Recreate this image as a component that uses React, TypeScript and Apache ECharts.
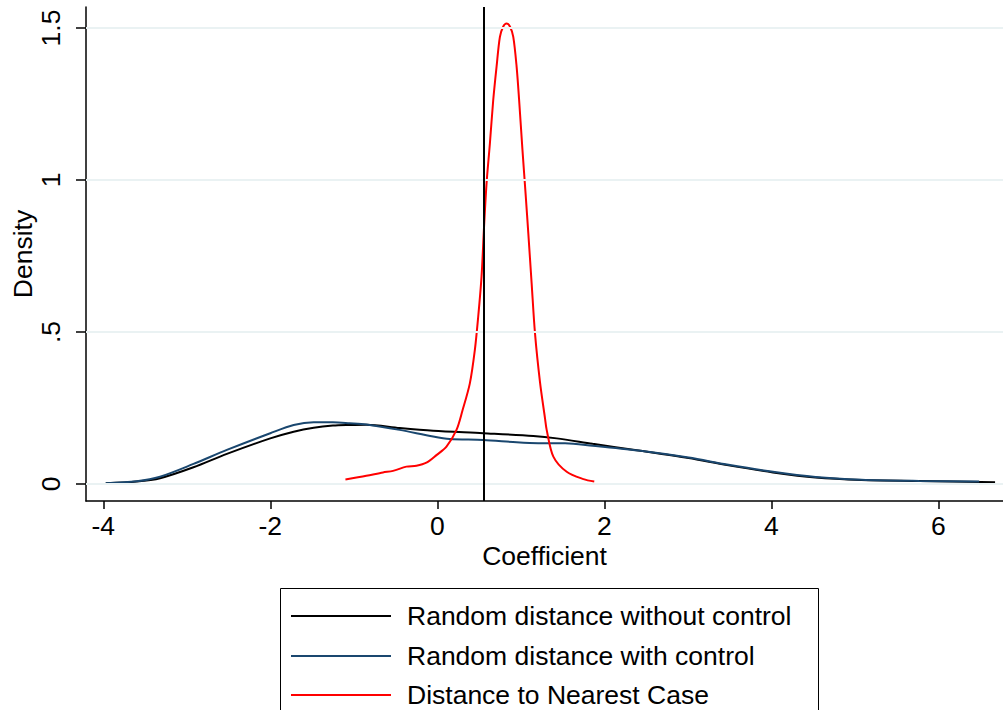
import React, { useEffect, useRef } from "react";
import * as echarts from "echarts";

const seriesNames = [
  "Random distance without control",
  "Random distance with control",
  "Distance to Nearest Case",
];

const withoutControl: [number, number][] = [
  [-3.97, 0.002], [-3.6, 0.008], [-3.32, 0.019], [-2.92, 0.055], [-2.52, 0.099],
  [-2.0, 0.15], [-1.72, 0.172], [-1.48, 0.185], [-1.25, 0.192], [-1.05, 0.194],
  [-0.85, 0.195], [-0.45, 0.184], [-0.05, 0.175], [0.55, 0.167], [1.15, 0.158],
  [1.43, 0.15], [1.86, 0.132], [2.41, 0.11], [3.01, 0.085], [3.47, 0.062],
  [4.02, 0.038], [4.53, 0.021], [5.08, 0.013], [5.77, 0.01], [6.68, 0.006],
];

const withControl: [number, number][] = [
  [-3.97, 0.002], [-3.6, 0.009], [-3.32, 0.024], [-2.92, 0.066], [-2.52, 0.112],
  [-2.0, 0.167], [-1.72, 0.194], [-1.48, 0.203], [-1.25, 0.203], [-1.05, 0.2],
  [-0.85, 0.196], [-0.45, 0.178], [-0.05, 0.156], [0.15, 0.148], [0.55, 0.145],
  [0.95, 0.137], [1.21, 0.134], [1.53, 0.134], [1.86, 0.126], [2.41, 0.11],
  [3.01, 0.087], [3.47, 0.064], [4.02, 0.04], [4.53, 0.023], [5.08, 0.014],
  [5.77, 0.01], [6.49, 0.008],
];

const nearestCase: [number, number][] = [
  [-1.1, 0.015], [-0.85, 0.027], [-0.65, 0.038], [-0.53, 0.043], [-0.37, 0.057],
  [-0.25, 0.06], [-0.13, 0.07], [-0.01, 0.095], [0.11, 0.123], [0.23, 0.178],
  [0.3, 0.24], [0.39, 0.331], [0.45, 0.441], [0.49, 0.55], [0.53, 0.682],
  [0.56, 0.846], [0.59, 0.989], [0.63, 1.12], [0.67, 1.263], [0.71, 1.373],
  [0.75, 1.471], [0.79, 1.505], [0.83, 1.515], [0.87, 1.505], [0.91, 1.471],
  [0.95, 1.373], [0.98, 1.263], [1.02, 1.099], [1.06, 0.945], [1.09, 0.825],
  [1.13, 0.66], [1.17, 0.496], [1.23, 0.335], [1.29, 0.216], [1.31, 0.178],
  [1.39, 0.09], [1.55, 0.04], [1.75, 0.016], [1.88, 0.008],
];

const xTicks = [-4, -2, 0, 2, 4, 6];
const yTicks = [0, 0.5, 1, 1.5];
const yTickLabels = ["0", ".5", "1", "1.5"];
const verticalLineX = 0.56;

const colors = ["#000000", "#1a476f", "#ff0000"];
const FONT = "Liberation Sans, Arial, sans-serif";
const FS = 26.5;

export default function App() {
  const ref = useRef<HTMLDivElement>(null);
  useEffect(() => {
    if (!ref.current) return;
    const chart = echarts.init(ref.current, undefined, { renderer: "svg" });
    const lineSeries = (name: string, data: [number, number][], color: string, extra: any = {}) => ({
      type: "line",
      name,
      data,
      smooth: 0.3,
      showSymbol: false,
      symbol: "none",
      lineStyle: { color, width: 2 },
      itemStyle: { color },
      z: 3,
      ...extra,
    });
    const legendRowsY = [616, 656, 695];
    const legendGraphics: any[] = [
      {
        type: "rect",
        left: 280,
        top: 588,
        shape: { width: 538, height: 160 },
        style: { fill: "#fff", stroke: "#000", lineWidth: 1 },
        silent: true,
      },
    ];
    seriesNames.forEach((n, i) => {
      legendGraphics.push({
        type: "line",
        shape: { x1: 291, y1: legendRowsY[i], x2: 391, y2: legendRowsY[i] },
        style: { stroke: colors[i], lineWidth: 2 },
        silent: true,
      });
      legendGraphics.push({
        type: "text",
        x: 407,
        y: legendRowsY[i],
        style: {
          text: n,
          fontSize: FS,
          fontFamily: FONT,
          fill: "#000",
          verticalAlign: "middle",
          align: "left",
        },
        silent: true,
      });
    });
    chart.setOption({
      animation: false,
      textStyle: { fontFamily: FONT },
      grid: { left: 86, right: 0, top: 7, bottom: 209, containLabel: false, outerBoundsMode: "none" },
      xAxis: {
        type: "value",
        min: -4.207,
        max: 6.775,
        name: "Coefficient",
        nameLocation: "middle",
        nameGap: 41,
        nameMoveOverlap: false,
        nameTextStyle: { fontSize: FS, color: "#000", fontFamily: FONT },
        axisLine: { show: true, onZero: false, lineStyle: { color: "#000", width: 1.5 } },
        axisTick: { show: true, length: 8, lineStyle: { color: "#000", width: 1.5 }, customValues: xTicks },
        axisLabel: { fontSize: FS, color: "#000", margin: 11, customValues: xTicks, fontFamily: FONT },
        splitLine: { show: false },
      },
      yAxis: {
        type: "value",
        min: -0.056,
        max: 1.569,
        name: "Density",
        nameLocation: "middle",
        nameRotate: 90,
        nameGap: 50,
        nameMoveOverlap: false,
        nameTextStyle: { fontSize: FS, color: "#000", fontFamily: FONT },
        axisLine: { show: true, onZero: false, lineStyle: { color: "#000", width: 1.5 } },
        axisTick: { show: true, length: 10, lineStyle: { color: "#000", width: 1.5 }, customValues: yTicks },
        axisLabel: {
          fontSize: FS,
          color: "#000",
          margin: 22,
          rotate: 90,
          customValues: yTicks,
          fontFamily: FONT,
          formatter: (v: number) => {
            const i = yTicks.findIndex((t) => Math.abs(t - v) < 1e-9);
            return i >= 0 ? yTickLabels[i] : "";
          },
        },
        splitLine: { show: false },
      },
      graphic: legendGraphics,
      series: [
        {
          type: "line",
          name: "grid",
          data: [],
          silent: true,
          z: 1,
          markLine: {
            silent: true,
            symbol: "none",
            label: { show: false },
            lineStyle: { color: "#eaf2f3", width: 2, type: "solid" },
            data: yTicks.map((t) => ({ yAxis: t })),
          },
        },
        lineSeries(seriesNames[0], withoutControl, colors[0]),
        lineSeries(seriesNames[1], withControl, colors[1]),
        lineSeries(seriesNames[2], nearestCase, colors[2], {
          markLine: {
            silent: true,
            symbol: "none",
            label: { show: false },
            lineStyle: { color: "#000", width: 2, type: "solid" },
            data: [{ xAxis: verticalLineX }],
          },
        }),
      ],
    });
    return () => chart.dispose();
  }, []);
  return (
    <div
      ref={ref}
      style={{ position: "fixed", left: 0, top: 0, width: 1003, height: 710, background: "#fff" }}
    />
  );
}
